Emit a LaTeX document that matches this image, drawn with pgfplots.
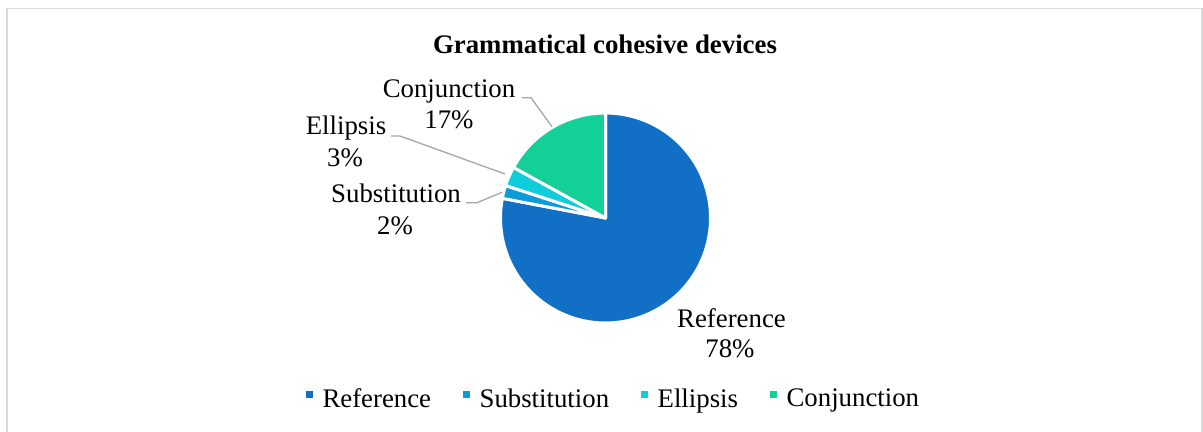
\documentclass[border=0pt]{standalone}
\usepackage{pgfplots}
\pgfplotsset{compat=1.18}
\usepackage{pgfplotstable}
\usepackage{fontspec}
\setmainfont{Liberation Serif}
\definecolor{cRef}{HTML}{1170C6}
\definecolor{cSub}{HTML}{0A9BD8}
\definecolor{cEll}{HTML}{10CDDB}
\definecolor{cCon}{HTML}{12D098}
\definecolor{cLead}{HTML}{A6A6A6}
\definecolor{cBord}{HTML}{D9D9D9}
\newcommand\lf{\fontsize{26.8bp}{32bp}\selectfont}

\pgfplotstableread{
label value
Reference 78
Substitution 2
Ellipsis 3
Conjunction 17
}\piedata
\pgfplotstablegetelem{0}{value}\of\piedata \let\vA\pgfplotsretval
\pgfplotstablegetelem{1}{value}\of\piedata \let\vB\pgfplotsretval
\pgfplotstablegetelem{2}{value}\of\piedata \let\vC\pgfplotsretval
\pgfplotstablegetelem{3}{value}\of\piedata \let\vD\pgfplotsretval
\pgfmathsetmacro\aA{90}
\pgfmathsetmacro\aB{\aA-3.6*\vA}
\pgfmathsetmacro\aC{\aB-3.6*\vB}
\pgfmathsetmacro\aD{\aC-3.6*\vC}
\pgfmathsetmacro\aE{\aD-3.6*\vD}
\def\cx{605.5}
\def\cy{214}
\def\rr{105}

\begin{document}
\begin{tikzpicture}
\begin{axis}[
  scale only axis, width=1203bp, height=432bp,
  xmin=0, xmax=1203, ymin=0, ymax=432,
  hide axis, clip=false,
  legend columns=4,
  legend style={draw=none, fill=none, inner sep=0pt, outer sep=0pt,
    at={(axis cs:306,33.5)}, anchor=west, font=\lf,
    nodes={inner sep=0pt},
    /tikz/every odd column/.append style={column sep=10bp},
    /tikz/every even column/.append style={column sep=32bp}},
  legend image code/.code={\fill[#1,draw=none] (0bp,0.5bp) rectangle (6.5bp,7bp);},
]
% border
\draw[cBord, line width=1.5bp] (axis cs:7,-5) -- (axis cs:7,423.5) -- (axis cs:1202,423.5) -- (axis cs:1202,-5);
% wedges
\addplot[fill=cRef, draw=white, line width=3bp, line join=round, domain=\aB:\aA, samples=120, variable=\t]
  ({\cx+\rr*cos(t)},{\cy+\rr*sin(t)}) -- (axis cs:\cx,\cy) -- cycle;
\addlegendentry{Reference}
\addplot[fill=cSub, draw=white, line width=3bp, line join=round, domain=\aC:\aB, samples=10, variable=\t]
  ({\cx+\rr*cos(t)},{\cy+\rr*sin(t)}) -- (axis cs:\cx,\cy) -- cycle;
\addlegendentry{Substitution}
\addplot[fill=cEll, draw=white, line width=3bp, line join=round, domain=\aD:\aC, samples=10, variable=\t]
  ({\cx+\rr*cos(t)},{\cy+\rr*sin(t)}) -- (axis cs:\cx,\cy) -- cycle;
\addlegendentry{Ellipsis}
\addplot[fill=cCon, draw=white, line width=3bp, line join=round, domain=\aE:\aD, samples=40, variable=\t]
  ({\cx+\rr*cos(t)},{\cy+\rr*sin(t)}) -- (axis cs:\cx,\cy) -- cycle;
\addlegendentry{Conjunction}
% leader lines
\addplot[cLead, line width=1.3bp, forget plot] coordinates {(522,334.3) (531,334.3) (552,305.3)};
\addplot[cLead, line width=1.3bp, forget plot] coordinates {(391,296) (400,296) (505,258)};
\addplot[cLead, line width=1.3bp, forget plot] coordinates {(466,229.3) (477,229.3) (502,239.7)};
% title
\node[anchor=base, font=\lf\bfseries] at (axis cs:605,378) {Grammatical cohesive devices};
% labels
\node[anchor=base, font=\lf] at (axis cs:449,334) {Conjunction};
\node[anchor=base, font=\lf] at (axis cs:449,303) {17\%};
\node[anchor=base, font=\lf] at (axis cs:346,297) {Ellipsis};
\node[anchor=base, font=\lf] at (axis cs:345,265) {3\%};
\node[anchor=base, font=\lf] at (axis cs:396,229) {Substitution};
\node[anchor=base, font=\lf] at (axis cs:395,197) {2\%};
\node[anchor=base, font=\lf] at (axis cs:731.5,104) {Reference};
\node[anchor=base, font=\lf] at (axis cs:730,74) {78\%};
\end{axis}
\pgfresetboundingbox
\path (current axis.south west) rectangle (current axis.north east);
\end{tikzpicture}
\end{document}
